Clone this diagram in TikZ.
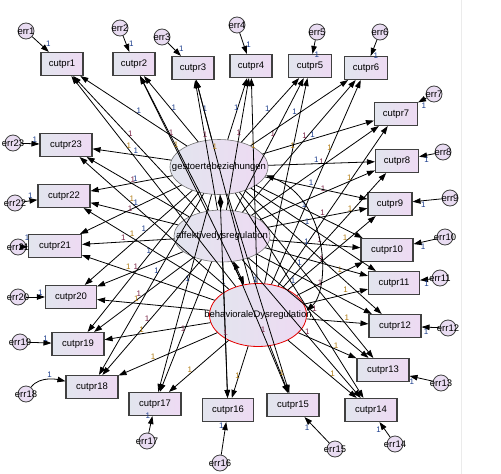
\documentclass[tikz,border=0pt]{standalone}
\usepackage{fontspec}
\setmainfont{Liberation Sans}
\usetikzlibrary{arrows.meta,shapes.geometric}
\definecolor{boxL}{HTML}{E2E5EE}
\definecolor{boxR}{HTML}{EEDAF3}
\definecolor{errC}{HTML}{E9DCF2}
\definecolor{lblG}{HTML}{1A3C8C}
\definecolor{lblA}{HTML}{7B2346}
\definecolor{lblB}{HTML}{B07A10}
\begin{document}
\begin{tikzpicture}[x=1pt,y=-1pt,
  box/.style={rectangle,draw=black!75,line width=1.1pt,left color=boxL,right color=boxR,
    minimum height=23pt,inner sep=0pt,font=\fontsize{9.5}{11}\selectfont},
  lat/.style={ellipse,draw=black!55,line width=0.6pt,left color=boxL,right color=boxR,
    inner sep=0pt},
  latlab/.style={font=\fontsize{9.5}{11}\selectfont,inner sep=0pt},
  err/.style={circle,draw=black!75,line width=0.8pt,fill=errC,minimum size=16pt,inner sep=0pt},
  errlab/.style={font=\fontsize{9.5}{11}\selectfont,inner sep=0pt},
  arr/.style={-{Triangle[length=8pt,width=5.5pt]},line width=0.8pt,black},
  darr/.style={{Triangle[length=8pt,width=5.5pt]}-{Triangle[length=8pt,width=5.5pt]},line width=0.8pt,black},
  lbl/.style={font=\fontsize{8}{9}\selectfont,inner sep=1pt}]
\useasboundingbox (0,0) rectangle (501,474);
\fill[white] (0,0) rectangle (501,474);
\draw[black!8,line width=0.8pt] (461,0) -- (461,474);

% latent variables
\node[lat,minimum width=98pt,minimum height=55pt,label={[latlab]center:gestoertebeziehungen}] (g) at (219,167) {};
\node[lat,minimum width=96pt,minimum height=52pt,label={[latlab]center:affektivedysregulation}] (a) at (222,236) {};
\node[lat,draw=red!90!black,line width=0.8pt,minimum width=97pt,minimum height=63pt,label={[latlab]center:behavioraleDysregulation}] (b) at (258,315) {};

% indicators
\foreach \n/\x/\y/\w in {1/62/64/42, 2/134/64/42, 3/193/68/42, 4/251/66/42, 5/310/66/43,
  6/366/68/43, 7/396/114/43, 8/397/161/43, 9/390/204/44, 10/387/250/52, 11/394/283/51,
  12/395/326/52, 13/383/370/52, 14/371/410/52, 15/293/405/52, 16/228/410/51, 17/155/404/52,
  18/92/387/52, 19/78/344/52, 20/71/297/51, 21/55/246/53, 22/64/196/52, 23/66/145/52}
  \node[box,minimum width=\w pt] (c\n) at (\x,\y) {cutpr\n};

% error terms
\foreach \n/\x/\y in {1/26/31, 2/120/28, 3/162/37, 4/237/25, 5/317/32, 6/380/32, 7/434/94,
  8/443/152, 9/450/198, 10/445/237, 11/440/278, 12/448/328, 13/441/383, 14/395/444,
  15/335/449, 16/220/463, 17/147/441, 18/26/394, 19/20/342, 20/18/297, 21/18/247,
  22/15/203, 23/13/143}
  \node[err,label={[errlab]center:err\n}] (e\n) at (\x,\y) {};

% loadings
\foreach \n in {1,...,23} {
  \draw[arr] (g) -- node[lbl,text=lblG,pos=0.45,above]{1} (c\n);
  \draw[arr] (a) -- node[lbl,text=lblA,pos=0.55,above]{1} (c\n);
  \draw[arr] (b) -- node[lbl,text=lblB,pos=0.65,above]{1} (c\n);
}

% error paths
\foreach \n in {1,...,17,19,20,22,23}
  \draw[arr] (e\n) -- node[lbl,text=lblG,pos=0.75,auto]{1} (c\n);
\draw[arr] (e21) -- node[lbl,text=lblG,pos=0.5,above=5pt]{1} (c21);
\draw[arr] (e18) .. controls (40,375) and (60,380) .. node[lbl,text=lblG,pos=0.5,above]{1} (c18);

% covariances
\draw[darr] (g) -- (a);
\draw[darr] (a) -- (b);
\draw[darr] (g.-10) .. controls (330,200) and (330,290) .. (b.5);
\end{tikzpicture}
\end{document}
